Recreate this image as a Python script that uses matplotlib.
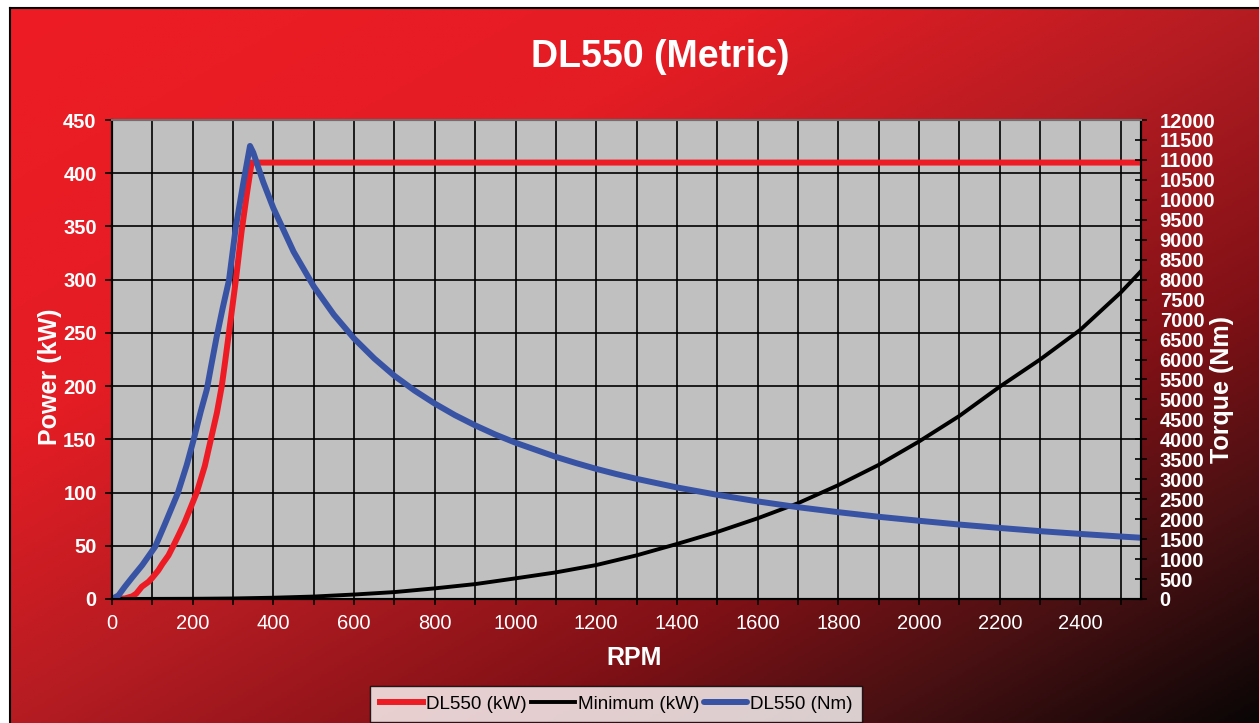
import numpy as np
import matplotlib
matplotlib.use("Agg")
import matplotlib.pyplot as plt
from matplotlib.colors import LinearSegmentedColormap
from matplotlib.ticker import MultipleLocator, FuncFormatter

plt.rcParams["font.family"] = ["Liberation Sans", "DejaVu Sans"]

# ---- data ----
rpm_kw = [0, 32, 50, 60, 74, 90, 100, 115, 125, 140, 152, 165, 180, 195, 210, 230,
          245, 260, 272, 280, 295, 307, 321, 334, 346, 2550]
dl550_kw = [0, 0.5, 2.5, 5, 11.6, 16, 20, 27, 33, 41, 50, 60, 72, 86, 100, 125,
            150, 175, 200, 222, 265, 300, 345, 380, 410, 410]

rpm_min = [0, 200, 300, 400, 500, 600, 700, 800, 900, 1000, 1100, 1200, 1300, 1400,
           1500, 1600, 1700, 1800, 1900, 2000, 2100, 2200, 2300, 2400, 2500, 2550]
minimum_kw = [0, 0.2, 0.5, 1.2, 2.3, 4.2, 6.5, 10, 14, 19.4, 25, 31.9, 41, 51.7,
              63, 75.8, 90, 107, 126, 148, 172, 199.5, 225, 253, 288, 308]

rpm_nm = [0, 16, 32, 50, 75, 107, 130, 163, 185, 202, 220, 235, 245, 259, 275, 290,
          307, 325, 342, 350, 375, 400, 450, 500, 550, 600, 650, 700, 750, 800, 850,
          900, 950, 1000, 1100, 1150, 1200, 1250, 1300, 1400, 1500, 1600,
          1700, 1800, 1900, 2000, 2100, 2200, 2300, 2400, 2500, 2550]
dl550_nm = [0, 90, 310, 540, 850, 1310, 1850, 2650, 3350, 3980, 4700, 5250, 5800, 6550,
            7320, 7990, 9330, 10400, 11350, 11185, 10440, 9790, 8700, 7830, 7120,
            6525, 6025, 5590, 5220, 4895, 4605, 4350, 4120, 3915, 3560, 3405, 3260,
            3130, 3010, 2795, 2610, 2445, 2300, 2175, 2060, 1960, 1865, 1780, 1700,
            1630, 1565, 1535]

RED = "#ED1C24"
BLUE = "#3953A4"
GRID_GRAY = "#C0C0C0"

W, H = 1259, 723
fig = plt.figure(figsize=(W / 100, H / 100), dpi=100, facecolor="white")

# gradient background panel
bg = fig.add_axes([10 / W, 0, 1 - 10 / W, 1 - 8 / H], zorder=0)
cmap = LinearSegmentedColormap.from_list(
    "bg", [(0.0, "#EE1C25"), (0.3, "#E41C24"), (0.5, "#B41C22"),
           (0.7, "#801116"), (0.85, "#461012"), (1.0, "#0A0606")])
u = np.linspace(0, 1, 400)
v = np.linspace(0, 1, 240)
uu, vv = np.meshgrid(u, v)
bg.imshow((uu + vv) / 2, cmap=cmap, aspect="auto", extent=(0, 1, 0, 1),
          origin="upper", vmin=0, vmax=1)
bg.set_xticks([])
bg.set_yticks([])
for s in ["right", "bottom"]:
    bg.spines[s].set_visible(False)
for s in ["left", "top"]:
    bg.spines[s].set_color("black")
    bg.spines[s].set_linewidth(1.5)

# main plot
ax = fig.add_axes([112 / W, 1 - 599 / H, (1141 - 112) / W, (599 - 120) / H], zorder=2)
ax.set_facecolor(GRID_GRAY)
ax2 = ax.twinx()

l1, = ax.plot(rpm_kw, dl550_kw, color=RED, lw=4.3, label="DL550 (kW)", zorder=3,
              solid_joinstyle="round")
l2, = ax.plot(rpm_min, minimum_kw, color="black", lw=2.8, label="Minimum (kW)", zorder=3)
l3, = ax2.plot(rpm_nm, dl550_nm, color=BLUE, lw=4.3, label="DL550 (Nm)",
               solid_joinstyle="round", solid_capstyle="round")

ax.set_xlim(0, 2550)
ax.set_ylim(0, 450)
ax2.set_ylim(0, 12000)

ax.xaxis.set_major_locator(MultipleLocator(100))
ax.xaxis.set_major_formatter(FuncFormatter(lambda x, p: f"{int(x)}" if int(round(x)) % 200 == 0 else ""))
ax.yaxis.set_major_locator(MultipleLocator(50))
ax2.yaxis.set_major_locator(MultipleLocator(500))

ax.grid(True, color="black", lw=1.2)
ax.set_axisbelow(True)

ax.tick_params(axis="x", colors="black", labelcolor="white", labelsize=14.5,
               length=4, width=1.2, pad=7)
ax.tick_params(axis="y", colors="black", labelcolor="white", labelsize=14.5,
               length=5, width=1.2, pad=6)
for t in ax.get_yticklabels():
    t.set_fontweight("bold")
ax2.tick_params(axis="y", colors="black", labelcolor="white", labelsize=14.5,
                direction="inout", length=9, width=1.2, pad=9)
for t in ax2.get_yticklabels():
    t.set_fontweight("bold")

for a in (ax, ax2):
    a.spines["top"].set_color("#707070")
    a.spines["top"].set_linewidth(1.5)
    for s in ["left", "bottom", "right"]:
        a.spines[s].set_color("black")
        a.spines[s].set_linewidth(1.5)

ax.set_xlabel("RPM", color="white", fontsize=18, fontweight="bold", va="center")
ax.xaxis.set_label_coords(0.507, -0.123)
ax.set_ylabel("Power (kW)", color="white", fontsize=18, fontweight="bold", va="center")
ax.yaxis.set_label_coords(-0.0603, 0.464)
ax2.set_ylabel("Torque (Nm)", color="white", fontsize=18, fontweight="bold",
               va="center", rotation=90)
ax2.yaxis.set_label_coords(1.0787, 0.438)

fig.text(660 / W, 1 - 57 / H, "DL550 (Metric)", color="white", fontsize=27,
         fontweight="bold", ha="center", va="center")

leg = fig.legend([l1, l2, l3], [l.get_label() for l in (l1, l2, l3)],
                 loc="upper center", bbox_to_anchor=(616 / W, 1 - 686 / H),
                 ncol=3, fontsize=13.6, frameon=True, fancybox=False, shadow=False,
                 handlelength=2.3, handletextpad=0.15, columnspacing=0.25,
                 borderpad=0.5, borderaxespad=0)
leg.get_frame().set_edgecolor("black")
leg.get_frame().set_facecolor("white")
leg.get_frame().set_linewidth(1.0)
leg.set_zorder(5)

fig.savefig("out.png", dpi=100, facecolor="white")
